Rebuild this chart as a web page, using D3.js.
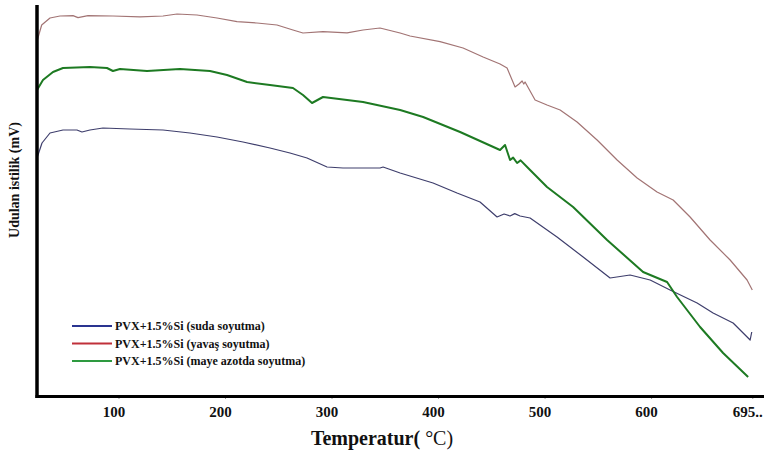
<!DOCTYPE html>
<html>
<head>
<meta charset="utf-8">
<script src="https://cdn.jsdelivr.net/npm/d3@7"></script>
<style>
  body { margin: 0; background: #fff; }
  text { font-family: "Liberation Serif", "Times New Roman", serif; }
</style>
</head>
<body>
<div id="chart"></div>
<script>
// temperature (°C) and absorbed heat (arbitrary mV units)
const suda = [
  [23.5, 59.5], [28.2, 63.25], [35.7, 65.75], [47.9, 66.5], [61.0, 66.5], [65.7, 66.0],
  [73.2, 66.5], [85.4, 67.0], [110.8, 66.75], [141.8, 66.5], [167.1, 65.75], [192.5, 64.75],
  [216.9, 63.5], [242.2, 62.0], [261.0, 60.75], [277.0, 59.5], [295.8, 57.25], [310.8, 57.0],
  [329.6, 57.0], [345.5, 57.0], [348.4, 57.25], [364.4, 55.75], [395.3, 53.25], [417.8, 50.75],
  [439.4, 48.5], [455.4, 44.75], [462.0, 45.5], [467.6, 45.0], [472.0, 45.6], [477.0, 45.0],
  [486.4, 44.5], [511.7, 39.75], [536.2, 34.75], [561.5, 29.5], [580.3, 30.25], [599.1, 29.0],
  [617.8, 26.5], [643.2, 23.25], [658.2, 20.75], [677.0, 18.25], [693.0, 14.0], [694.5, 16.0]
];
const yavas = [
  [23.8, 89.0], [27.9, 92.75], [35.7, 94.5], [45.1, 95.0], [57.3, 95.1], [62.0, 94.6],
  [71.4, 95.1], [94.8, 95.0], [120.2, 94.8], [141.8, 95.0], [155.0, 95.5], [173.7, 95.25],
  [192.5, 94.5], [211.3, 93.6], [230.0, 93.25], [248.8, 92.75], [263.8, 91.5], [273.2, 90.75],
  [292.0, 91.1], [314.6, 90.8], [329.6, 91.5], [345.5, 92.0], [364.4, 90.75], [373.7, 90.0],
  [401.9, 88.6], [423.5, 87.0], [442.3, 84.75], [458.2, 83.0], [464.8, 82.0], [472.3, 77.25],
  [476.0, 78.0], [478.9, 78.75], [480.5, 78.0], [481.7, 78.5], [491.1, 74.0], [502.3, 72.75],
  [514.6, 71.5], [530.5, 68.5], [549.3, 64.0], [568.1, 59.0], [586.9, 54.5], [605.6, 51.0],
  [620.7, 49.0], [636.6, 44.75], [655.4, 39.0], [674.2, 34.0], [690.1, 29.0], [695.0, 26.5]
];
const maye = [
  [23.5, 76.5], [29.1, 79.0], [38.5, 81.0], [47.9, 82.0], [73.2, 82.25], [89.2, 82.0],
  [94.8, 81.25], [101.4, 81.75], [126.8, 81.25], [157.7, 81.75], [185.9, 81.25], [201.9, 80.25],
  [220.7, 78.5], [242.2, 77.75], [263.8, 77.0], [273.2, 75.25], [281.7, 73.25], [292.0, 74.75],
  [314.6, 74.0], [329.6, 73.5], [364.4, 71.5], [386.0, 69.75], [420.7, 66.0], [458.2, 61.5],
  [462.9, 62.75], [467.6, 59.0], [470.5, 59.6], [474.2, 58.25], [477.5, 58.9], [486.4, 56.5],
  [502.3, 52.25], [526.8, 47.25], [558.7, 39.0], [592.5, 31.0], [615.0, 28.5], [624.4, 24.75],
  [646.0, 17.25], [667.6, 10.75], [691.1, 4.75]
];

const seriesNames = [
  "PVX+1.5%Si (suda soyutma)",
  "PVX+1.5%Si (yavaş soyutma)",
  "PVX+1.5%Si (maye azotda soyutma)"
];
const seriesData = [suda, yavas, maye];
const lineColors = ["#3e3e6c", "#a27474", "#1d7a22"];
const legendColors = ["#2a3490", "#c0303a", "#2e9a40"];
const lineWidths = [1.2, 1.2, 2];

const tickValues = [100, 200, 300, 400, 500, 600, 695];
const tickLabels = ["100", "200", "300", "400", "500", "600", "695.."];

const width = 764, height = 455;

const svg = d3.select("#chart")
  .append("svg")
  .attr("width", width)
  .attr("height", height);

const x = d3.scaleLinear()
  .domain([23.5, 706])
  .range([37, 764]);

const y = d3.scaleLinear()
  .domain([0, 99])
  .range([396, 0]);

// curves
const line = d3.line()
  .x(function(d) { return x(d[0]); })
  .y(function(d) { return y(d[1]); });

seriesData.forEach(function(data, i) {
  svg.append("path")
    .datum(data)
    .attr("fill", "none")
    .attr("stroke", lineColors[i])
    .attr("stroke-width", lineWidths[i])
    .attr("stroke-linejoin", "round")
    .attr("d", line);
});

// x axis: small ticks, labels shifted a little left like the original
const xAxis = svg.append("g")
  .attr("transform", "translate(0,396)")
  .call(d3.axisBottom(x)
    .tickValues(tickValues)
    .tickSize(3)
    .tickPadding(7)
    .tickFormat(function(d, i) { return tickLabels[i]; }));
xAxis.select(".domain").remove();
xAxis.selectAll(".tick line").attr("stroke", "#999");
xAxis.selectAll(".tick text")
  .attr("dx", -5)
  .attr("fill", "#111")
  .style("font-family", "'Liberation Serif', serif")
  .style("font-size", "15px")
  .style("font-weight", "bold");

// heavy axis lines
svg.append("line")
  .attr("x1", 37).attr("x2", 37)
  .attr("y1", 5).attr("y2", 398)
  .attr("stroke", "#000").attr("stroke-width", 3.5);
svg.append("line")
  .attr("x1", 35.5).attr("x2", 764)
  .attr("y1", 396.5).attr("y2", 396.5)
  .attr("stroke", "#000").attr("stroke-width", 3);

// axis titles
const xTitle = svg.append("text")
  .attr("x", 382)
  .attr("y", 445)
  .style("text-anchor", "middle")
  .style("font-size", "20px")
  .attr("fill", "#111");
xTitle.append("tspan").style("font-weight", "bold").text("Temperatur(");
xTitle.append("tspan").text(" °C)");

svg.append("text")
  .attr("transform", "translate(19,180) rotate(-90)")
  .style("text-anchor", "middle")
  .style("font-size", "14px")
  .style("font-weight", "bold")
  .attr("fill", "#111")
  .text("Udulan istilik (mV)");

// legend
const legend = svg.append("g");
seriesNames.forEach(function(name, i) {
  const ly = 326 + i * 17.5;
  legend.append("line")
    .attr("x1", 72).attr("x2", 112)
    .attr("y1", ly).attr("y2", ly)
    .attr("stroke", legendColors[i])
    .attr("stroke-width", 2);
  legend.append("text")
    .attr("x", 115)
    .attr("y", ly + 4)
    .style("font-size", "12px")
    .style("font-weight", "bold")
    .attr("fill", "#111")
    .text(name);
});
</script>
</body>
</html>
